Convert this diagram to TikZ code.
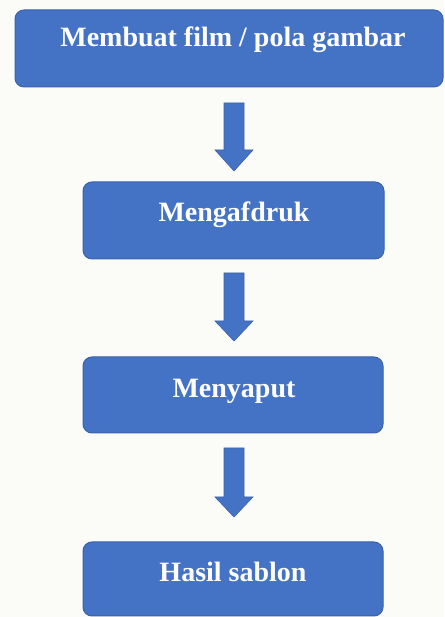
\documentclass[tikz,border=0pt]{standalone}
\usepackage{fontspec}
\setmainfont{Liberation Serif}
\definecolor{boxblue}{HTML}{4472C4}
\definecolor{boxedge}{HTML}{3A62AA}
\definecolor{bgcol}{HTML}{FBFBF7}
\newcommand\myblockarrow[4]{% cx, top, headstart, tip
  \filldraw[blockarrow] (#1-10,#2) -- (#1+10,#2) -- (#1+10,#3) -- (#1+19,#3)
    -- (#1,#4) -- (#1-19,#3) -- (#1-10,#3) -- cycle;}
\begin{document}
\begin{tikzpicture}[x=1pt,y=1pt,
  box/.style={draw=boxedge, line width=1pt, fill=boxblue, rounded corners=9pt, inner sep=0pt},
  lbl/.style={text=white, font=\bfseries\fontsize{28}{30}\selectfont, anchor=base, inner sep=0pt},
  blockarrow/.style={fill=boxblue, draw=boxedge, line width=0.6pt, line join=miter}]
\fill[bgcol] (0,0) rectangle (444,617);
\useasboundingbox (0,0) rectangle (444,617);
% boxes
\node[box, minimum width=428pt, minimum height=77pt] (b1) at (229,568.5) {};
\node[box, minimum width=301pt, minimum height=77pt] (b2) at (233.5,396.5) {};
\node[box, minimum width=300pt, minimum height=76pt] (b3) at (233,222) {};
\node[box, minimum width=300pt, minimum height=74pt] (b4) at (233,38) {};
% labels
\node[lbl] (t1) at (233,570) {Membuat film / pola gambar};
\node[lbl] (t2) at (234,395) {Mengafdruk};
\node[lbl] (t3) at (234,219) {Menyaput};
\node[lbl] (t4) at (233,35) {Hasil sablon};
% block arrows
\myblockarrow{234}{514}{467}{446}
\myblockarrow{234}{344}{296}{276}
\myblockarrow{234}{169}{120}{100}
\end{tikzpicture}
\end{document}
